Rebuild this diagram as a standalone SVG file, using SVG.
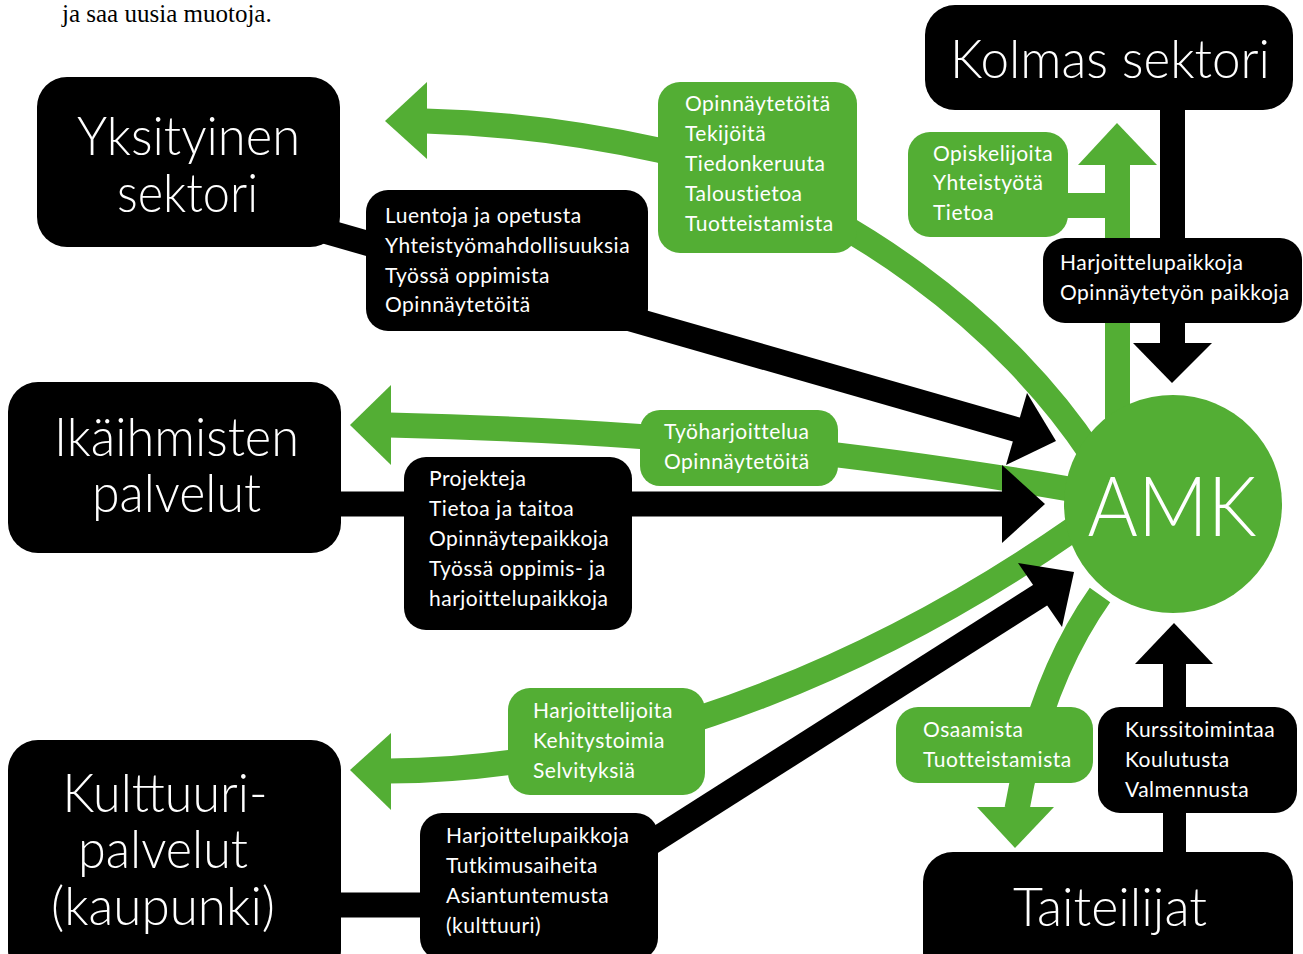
<svg xmlns="http://www.w3.org/2000/svg" width="1303" height="954" viewBox="0 0 1303 954">
<style>
.g{fill:none;stroke:#53ae34;stroke-width:25;stroke-linecap:butt}
.b{fill:none;stroke:#000;stroke-width:25;stroke-linecap:butt}
.gf{fill:#53ae34}
.bf{fill:#000}
.big{font-family:Lato,"Liberation Sans",sans-serif;font-weight:300;font-size:54px;fill:#fff;text-anchor:middle}
.lbl{font-family:Lato,"Liberation Sans",sans-serif;font-weight:400;font-size:21px;letter-spacing:0.5px;fill:#fff}
.top{font-family:"Liberation Serif",serif;font-size:25px;fill:#000}
</style>
<rect width="1303" height="954" fill="#fff"/>
<text class="top" x="62" y="22">ja saa uusia muotoja.</text>

<g id="connectors">
  <path class="g" d="M1092 455 C1010 330 850 200 658 150 Q540 124 425 121"/>
  <polygon class="gf" points="385,121 427,82 427,159"/>
  <path class="g" d="M1075 490 C900 460 700 432 389 425"/>
  <polygon class="gf" points="350,425 391,385 391,465"/>
  <path class="g" d="M1075 528 C900 650 650 770 389 771"/>
  <polygon class="gf" points="350,770 391,733 391,810"/>
  <rect class="gf" x="1105" y="163" width="25" height="260"/>
  <polygon class="gf" points="1117,123 1078,165 1157,165"/>
  <rect class="gf" x="1060" y="193" width="57" height="25"/>
  <path class="g" d="M1100 595 Q1040 680 1017 809"/>
  <polygon class="gf" points="977,807 1054,807 1015,848"/>
  <path class="b" d="M300 224 L1018 430"/>
  <polygon class="bf" points="1056,441 1027,393 1006,465"/>
  <path class="b" d="M300 504 L1004 504"/>
  <polygon class="bf" points="1045,504 1002,465 1002,543"/>
  <path class="b" d="M300 905 L470 905"/>
  <path class="b" d="M600 875 L1042 594"/>
  <polygon class="bf" points="1074,572 1018,563 1062,627"/>
  <rect class="bf" x="1160" y="105" width="25" height="240"/>
  <polygon class="bf" points="1133,343 1212,343 1172,383"/>
  <rect class="bf" x="1163" y="662" width="23" height="195"/>
  <polygon class="bf" points="1135,664 1213,664 1174,623"/>
</g>

<g id="amk">
  <circle class="gf" cx="1173" cy="504" r="109"/>
  <text class="big" x="1172" y="536" style="font-size:82px" textLength="169" lengthAdjust="spacingAndGlyphs">AMK</text>
</g>

<g id="yksityinen">
  <rect class="bf" x="37" y="77" width="303" height="170" rx="30"/>
  <text class="big" x="188.5" y="155" textLength="223" lengthAdjust="spacingAndGlyphs">Yksityinen</text>
  <text class="big" x="187.5" y="212" textLength="141" lengthAdjust="spacingAndGlyphs">sektori</text>
</g>

<g id="kolmas">
  <rect class="bf" x="925" y="5" width="368" height="105" rx="30"/>
  <text class="big" x="1110" y="78" textLength="320" lengthAdjust="spacingAndGlyphs">Kolmas sektori</text>
</g>

<g id="ikaihmisten">
  <rect class="bf" x="8" y="382" width="333" height="171" rx="30"/>
  <text class="big" x="176.5" y="456" textLength="245" lengthAdjust="spacingAndGlyphs">Ikäihmisten</text>
  <text class="big" x="176.5" y="512" textLength="169" lengthAdjust="spacingAndGlyphs">palvelut</text>
</g>

<g id="kulttuuri">
  <rect class="bf" x="8" y="740" width="333" height="240" rx="30"/>
  <text class="big" x="165" y="812" textLength="205" lengthAdjust="spacingAndGlyphs">Kulttuuri-</text>
  <text class="big" x="163" y="868" textLength="170" lengthAdjust="spacingAndGlyphs">palvelut</text>
  <text class="big" x="163" y="925" textLength="224" lengthAdjust="spacingAndGlyphs">(kaupunki)</text>
</g>

<g id="taiteilijat">
  <rect class="bf" x="923" y="852" width="370" height="130" rx="30"/>
  <text class="big" x="1110" y="926" textLength="194" lengthAdjust="spacingAndGlyphs">Taiteilijat</text>
</g>

<g id="lbl-opinnaytetoita">
  <rect class="gf" x="658" y="82" width="199" height="171" rx="22"/>
  <text class="lbl" x="685" y="111">Opinnäytetöitä</text>
  <text class="lbl" x="685" y="141">Tekijöitä</text>
  <text class="lbl" x="685" y="171">Tiedonkeruuta</text>
  <text class="lbl" x="685" y="201">Taloustietoa</text>
  <text class="lbl" x="685" y="231">Tuotteistamista</text>
</g>

<g id="lbl-luentoja">
  <rect class="bf" x="366" y="190" width="282" height="141" rx="22"/>
  <text class="lbl" x="385" y="223">Luentoja ja opetusta</text>
  <text class="lbl" x="385" y="253">Yhteistyömahdollisuuksia</text>
  <text class="lbl" x="385" y="283">Työssä oppimista</text>
  <text class="lbl" x="385" y="312">Opinnäytetöitä</text>
</g>

<g id="lbl-opiskelijoita">
  <rect class="gf" x="908" y="132" width="160" height="105" rx="22"/>
  <text class="lbl" x="933" y="161">Opiskelijoita</text>
  <text class="lbl" x="933" y="190">Yhteistyötä</text>
  <text class="lbl" x="933" y="220">Tietoa</text>
</g>

<g id="lbl-harjoittelupaikkoja-kolmas">
  <rect class="bf" x="1043" y="238" width="259" height="85" rx="22"/>
  <text class="lbl" x="1060" y="270">Harjoittelupaikkoja</text>
  <text class="lbl" x="1060" y="300">Opinnäytetyön paikkoja</text>
</g>

<g id="lbl-tyoharjoittelua">
  <rect class="gf" x="640" y="410" width="198" height="76" rx="20"/>
  <text class="lbl" x="664" y="439">Työharjoittelua</text>
  <text class="lbl" x="664" y="469">Opinnäytetöitä</text>
</g>

<g id="lbl-projekteja">
  <rect class="bf" x="404" y="457" width="228" height="173" rx="22"/>
  <text class="lbl" x="429" y="486">Projekteja</text>
  <text class="lbl" x="429" y="516">Tietoa ja taitoa</text>
  <text class="lbl" x="429" y="546">Opinnäytepaikkoja</text>
  <text class="lbl" x="429" y="576">Työssä oppimis- ja</text>
  <text class="lbl" x="429" y="606">harjoittelupaikkoja</text>
</g>

<g id="lbl-harjoittelijoita">
  <rect class="gf" x="508" y="688" width="197" height="107" rx="22"/>
  <text class="lbl" x="533" y="718">Harjoittelijoita</text>
  <text class="lbl" x="533" y="748">Kehitystoimia</text>
  <text class="lbl" x="533" y="778">Selvityksiä</text>
</g>

<g id="lbl-harjoittelupaikkoja-kulttuuri">
  <rect class="bf" x="420" y="813" width="238" height="147" rx="22"/>
  <text class="lbl" x="446" y="843">Harjoittelupaikkoja</text>
  <text class="lbl" x="446" y="873">Tutkimusaiheita</text>
  <text class="lbl" x="446" y="903">Asiantuntemusta</text>
  <text class="lbl" x="446" y="933">(kulttuuri)</text>
</g>

<g id="lbl-osaamista">
  <rect class="gf" x="896" y="707" width="197" height="76" rx="22"/>
  <text class="lbl" x="923" y="737">Osaamista</text>
  <text class="lbl" x="923" y="767">Tuotteistamista</text>
</g>

<g id="lbl-kurssitoimintaa">
  <rect class="bf" x="1098" y="707" width="199" height="106" rx="22"/>
  <text class="lbl" x="1125" y="737">Kurssitoimintaa</text>
  <text class="lbl" x="1125" y="767">Koulutusta</text>
  <text class="lbl" x="1125" y="797">Valmennusta</text>
</g>
</svg>
